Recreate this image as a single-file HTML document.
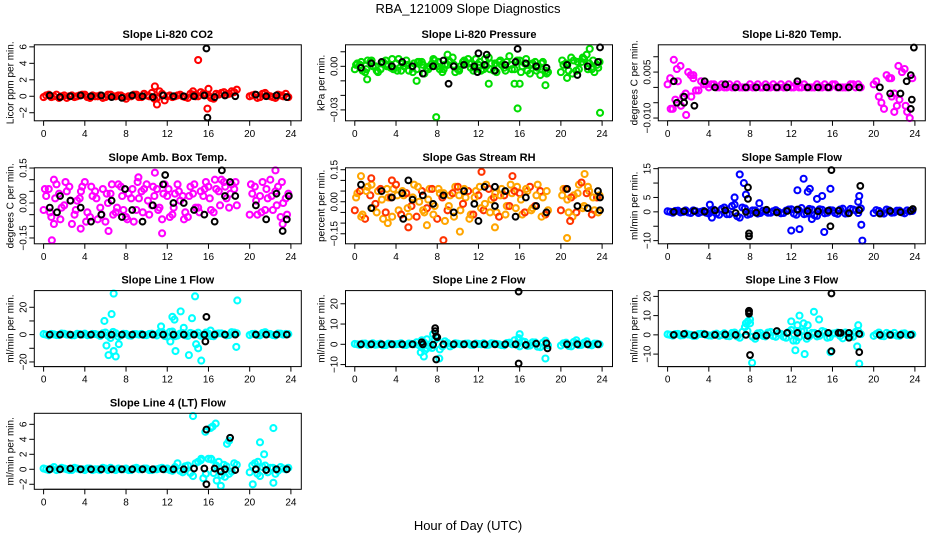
<!DOCTYPE html>
<html><head><meta charset="utf-8"><style>
html,body{margin:0;padding:0;background:#fff;}
svg{display:block;font-family:"Liberation Sans",Arial,sans-serif;}
</style></head><body>
<svg id="chart" width="936" height="540" viewBox="0 0 936 540">
<text x="468" y="13" text-anchor="middle" font-size="13">RBA_121009  Slope Diagnostics</text>
<text x="468" y="530" text-anchor="middle" font-size="13">Hour of Day (UTC)</text>
</svg>
<script>
// ---- shared categories ----
const hoursA = [0.25,0.75,1.25,1.75,2.25,2.75,3.25,3.75,4.25,4.75,5.25,5.75,6.25,6.75,7.25,7.75,8.25,8.75,9.25,9.75,10.25,10.75,11.25,11.75,12.25,12.75,13.25,13.75,14.25,14.75,15.25,15.75,16.25,16.75,17.25,17.75,18.25,18.75,19.25,19.75,20.25,20.75,21.25,21.75,22.25,22.75,23.25,23.75];
const hoursB = [0,0.5,1,1.5,2,2.5,3,3.5,4,4.5,5,5.5,6,6.5,7,7.5,8,8.5,9,9.5,10,10.5,11,11.5,12,12.5,13,13.5,14,14.5,15,15.5,16,16.5,17,17.5,18,18.5,19,19.5,20,20.5,21,21.5,22,22.5,23,23.5];
const hoursC = [0.125,0.625,1.125,1.625,2.125,2.625,3.125,3.625,4.125,4.625,5.125,5.625,6.125,6.625,7.125,7.625,8.125,8.625,9.125,9.625,10.125,10.625,11.125,11.625,12.125,12.625,13.125,13.625,14.125,14.625,15.125,15.625,16.125,16.625,17.125,17.625,18.125,18.625,19.125,19.625,20.125,20.625,21.125,21.625,22.125,22.625,23.125,23.625];
const hoursK = [0.6,1.6,2.6,3.6,4.6,5.6,6.6,7.6,8.6,9.6,10.6,11.6,12.6,13.6,14.6,15.6,16.6,17.6,18.6,19.6,20.6,21.6,22.6,23.6];
const xTicks = [0,4,8,12,16,20,24];

// ---- P1 CO2 ----
const co2A = [0.1,-0.1,0.2,0,-0.2,0.1,0,0.2,-0.1,0.1,0,-0.2,0.2,0,0.1,-0.1,0,0.2,-0.1,0.3,0,-0.3,0.6,-0.5,0.1,0,0.2,-0.1,0.3,0,0.5,0.2,-0.2,0.3,0.4,0.2,0.6,0.8,null,null,0.1,-0.2,0.3,0.1,-0.1,0.2,0,-0.1];
const co2B = [-0.1,0.2,0,-0.2,0.1,0,-0.1,0.1,0.2,-0.2,0,0.1,-0.1,0.2,0,0.1,-0.3,0,0.2,-0.1,0.1,0.4,-0.2,0.3,0,-0.1,0.1,0,-0.2,0.2,0,0.3,0.1,-0.3,0.2,0.5,0.3,0.5,null,null,0,0.2,-0.1,0.4,0,-0.2,0.1,0.3];
const co2OutX = [10.8,11,15,15.9,16,14.5];
const co2OutY = [1.2,-1,4.4,-1.5,0.9,0.6];
const co2K = [0.1,-0.1,0,0.1,0,0.1,-0.1,-0.2,0.1,0,-0.1,0.1,0,0,0,0.1,-0.1,0.1,0,null,0.2,0,0.1,-0.1];
const co2KOutX = [15.8,15.9];
const co2KOutY = [5.8,-2.6];
const co2Ticks = [-2,0,2,4,6];
const co2Labels = ["−2","0","2","4","6"];

// ---- P2 Pressure ----
const presA = [0.002,-0.003,0.004,0,-0.004,0.003,0.001,-0.002,0.005,0,-0.003,0.002,0.003,-0.005,0,0.004,-0.002,0.001,0.003,-0.004,0,0.002,-0.001,0.005,-0.003,0,0.002,-0.004,0.001,0.003,-0.002,0.004,0,-0.003,0.002,-0.001,0.003,-0.004,null,null,0.001,-0.003,0.004,-0.002,0.005,0.002,-0.004,0.003];
const presB = [-0.002,0.001,-0.004,0.003,0,-0.002,0.004,-0.001,0.002,-0.003,0.004,0,-0.002,0.003,-0.001,0.002,0,-0.004,0.001,0.006,-0.002,0.003,0.005,-0.003,0.001,-0.002,0.006,-0.003,0.003,-0.001,0.007,-0.002,0.004,0.002,-0.005,0.003,-0.006,-0.003,null,null,-0.004,0.002,0.006,-0.003,0.003,0.008,-0.002,0.001];
const presC = [0.001,0.003,-0.002,0.004,-0.003,0.002,0,0.005,-0.003,0.002,0.001,-0.004,0.003,0.001,-0.002,0.005,0.003,-0.002,0.004,0.001,-0.003,0.004,0.002,-0.001,0.003,0.005,-0.002,0.002,0.004,-0.003,0.001,0.003,-0.004,0.005,0.001,-0.003,0.002,-0.005,null,null,0.004,0.001,-0.005,0.003,0.006,-0.002,0.004,-0.001];
const presOutX = [7.9,15.8,23.8,1.2,6,9,13,15.5,16,18.5,20.6,22.8];
const presOutY = [-0.035,-0.029,-0.032,-0.009,-0.010,0.008,-0.012,-0.012,-0.012,-0.013,-0.008,0.012];
const presK = [-0.001,0.002,0.003,0,0.003,0,-0.005,0,0.004,0,0.001,0,0.001,-0.003,0.001,0.003,0.002,0,-0.001,null,0.001,-0.006,0,0.003];
const presKOutX = [15.8,23.8,9.1,12,12.8,11.9];
const presKOutY = [0.012,0.013,-0.012,0.009,0.008,-0.004];
const presTicks = [-0.03,-0.02,-0.01,0,0.01];
const presLabels = ["−0.03","","","0.00",""];

// ---- P3 Temp ----
const tempA = [0.003,-0.004,0.007,-0.002,0.004,-0.001,0.002,0.001,0.001,0,0.001,0,0,0.001,0,0,0,0.001,0,0,0.001,0,0,0.001,0,0,0.001,0,0,0,0.001,0,0.001,0,0,0.001,0,0,null,null,0.002,-0.005,0.004,-0.003,-0.006,0.005,-0.008,0.003];
const tempB = [0.001,-0.007,0.002,-0.003,0.005,0.003,-0.001,0.001,0,0.001,0,0,0.001,0,0,0,0.001,0,0,0.001,0,0,0.001,0,0,0.001,0,0,0,0.001,0,0,0.001,0,0,0,0.001,0.001,null,null,0.001,-0.003,-0.007,0.003,-0.002,-0.004,0.006,-0.010];
const tempOutX = [0.6,0.3,1.8,2.5,0.9,1.3,2.3,22.4,22,21.7,23.1];
const tempOutY = [0.009,-0.007,-0.009,0.004,0.006,-0.006,-0.003,0.007,-0.008,0.003,-0.006];
const tempK = [0.002,-0.005,-0.006,0.002,0,0.001,0,0,0,0,0,0,0.002,0,0,0,0,0,0,null,0,-0.002,-0.002,0.004];
const tempKOutX = [23.9,23.6,23.7,23.2,0.9,1.6];
const tempKOutY = [0.013,-0.007,-0.004,0.002,-0.005,-0.003];
const tempTicks = [-0.01,-0.005,0,0.005,0.01];
const tempLabels = ["−0.010","","","0.005",""];

// ---- P4 Amb box temp ----
const ambA = [0.03,-0.06,0.08,-0.02,0.05,-0.09,0.01,0.07,-0.04,0.03,-0.07,0.06,0,-0.05,0.08,-0.03,0.04,-0.08,0.02,0.06,-0.05,0.03,-0.02,0.08,-0.06,0.04,0.01,-0.04,0.07,-0.02,0.05,0.09,-0.03,0.06,0.1,0.02,0.08,-0.01,null,null,0.04,-0.05,0.09,0.02,-0.03,0.07,0,0.04];
const ambB = [-0.03,0.06,-0.09,0.04,-0.01,0.07,-0.05,0.02,0.09,-0.06,0.05,-0.02,-0.08,0.04,-0.04,0.07,-0.06,0.02,-0.03,0.05,0.08,-0.01,0.06,-0.07,0.03,-0.05,0.08,0.03,-0.06,0.04,-0.02,0.03,0.07,-0.04,0.05,0.09,-0.02,0.06,null,null,-0.05,0.07,0.03,-0.03,0.1,0.05,-0.06,0.02];
const ambC = [0.06,-0.04,0.02,-0.07,0.09,0.01,-0.03,0.05,-0.08,0.07,0.02,-0.05,0.04,0.08,-0.02,0.03,-0.07,0.06,0.09,-0.04,0.01,0.07,-0.03,0.04,0.06,-0.02,0.05,-0.07,0.03,0.08,-0.04,0.06,0.02,0.1,-0.01,0.07,0.04,0.09,null,null,0.08,0.01,-0.04,0.06,0.03,-0.01,0.09,-0.05];
const ambOutX = [0.8,3.6,6.3,10.8,11.5,9.2,1,22.5,23.2];
const ambOutY = [-0.16,-0.11,-0.12,0.13,-0.13,0.11,0.1,0.14,-0.09];
const ambK = [-0.02,0.03,0.01,-0.02,-0.08,-0.05,0.01,-0.06,-0.03,-0.08,-0.01,0.08,0,0,-0.03,-0.05,-0.08,0.03,0.03,null,-0.01,-0.07,0.04,-0.07];
const ambKOutX = [17.3,18.1,11.8,23.2,23.8,7.9,1.3];
const ambKOutY = [0.14,0.09,0.12,-0.12,0.03,0.06,-0.04];
const ambTicks = [-0.15,-0.1,-0.05,0,0.05,0.1,0.15];
const ambLabels = ["−0.15","","","0.00","","","0.15"];

// ---- P5 RH ----
const rhA = [0.04,-0.06,0.07,-0.03,0.05,-0.08,0.02,0.06,-0.04,0.03,-0.07,0.08,0,-0.05,0.06,-0.02,0.04,-0.09,0.03,0.07,-0.04,0.02,-0.06,0.05,-0.03,0.08,0.01,-0.05,0.06,-0.02,0.04,0.07,-0.06,0.05,-0.03,0.08,0.02,-0.04,null,null,0.06,-0.05,0.03,0.08,-0.02,0.05,-0.04,0.03];
const rhB = [-0.04,0.05,-0.08,0.03,-0.01,0.06,-0.05,0.02,0.08,-0.06,0.04,-0.02,-0.07,0.05,-0.03,0.06,-0.08,0.02,-0.04,0.04,0.07,-0.01,0.05,-0.06,0.03,-0.04,0.06,0.02,-0.07,0.03,-0.02,0.05,0.04,-0.05,0.07,-0.02,0.05,-0.06,null,null,-0.04,0.06,0.02,-0.05,0.09,0.04,-0.06,0.02];
const rhC = [0.02,-0.07,0.05,0.08,-0.05,0.01,0.06,-0.07,0.03,0.05,-0.03,0.02,0.07,-0.04,0.01,-0.06,0.06,0.04,-0.02,-0.07,0.03,0.06,-0.08,0.02,0.07,-0.01,-0.05,0.04,0.03,-0.06,0.08,-0.03,0.01,0.06,-0.04,0.03,-0.07,0.05,null,null,0.03,0.01,-0.07,0.04,-0.03,0.07,0.02,-0.05];
const rhOutX = [0.6,1.6,3.2,5.2,7,8.6,10.2,12.3,13.6,15.3,20.6,20.9,22.3,3.6];
const rhOutY = [0.12,0.11,-0.1,-0.12,-0.11,-0.18,-0.14,0.14,-0.12,0.12,-0.17,-0.09,0.13,0.1];
const rhK = [0.08,-0.03,0.05,0.02,0.04,0.01,0.03,-0.01,0.03,-0.05,0.05,-0.01,0.07,-0.02,0.05,-0.07,0.02,-0.02,-0.05,null,0.06,-0.02,-0.03,0.05];
const rhKOutX = [4.7,5.2,12,13.6,23.8,23.8];
const rhKOutY = [-0.08,0.1,-0.09,0.07,-0.04,0.02];
const rhTicks = [-0.15,-0.1,-0.05,0,0.05,0.1,0.15];
const rhLabels = ["−0.15","","","0.00","","","0.15"];

// ---- P6 Sample flow ----
const sfA = [0,0.3,-0.2,0.5,-0.4,0.2,0,-0.3,0.6,-0.5,1,-0.8,2,-1.5,1.5,-1,0.5,-0.6,0.4,-0.3,0.2,0,-0.4,0.8,-0.6,0.5,-0.8,1,-1.2,0.9,-0.5,0.6,-0.4,0.8,-0.6,1,0.5,1.2,null,null,0.6,-0.5,0.8,-0.3,0.4,-0.2,0.5,0.3];
const sfB = [0.2,-0.3,0.4,0,-0.2,0.5,-0.4,0.3,-0.6,0.7,-1,1.5,-0.8,2.5,-2,1.2,-0.7,0.5,-0.4,0.2,-0.3,0.6,-0.5,0.4,0.9,-1,1.3,-0.6,0.8,-1.4,0.7,-0.3,0.5,-0.7,1.1,-0.5,0.8,-0.4,null,null,-0.4,0.3,-0.6,0.5,-0.2,0.4,-0.5,0.2];
const sfOutX = [7,7.4,7.6,6.5,4.1,4.3,13.2,12.6,13.8,13.6,15.8,12,12.8,14,14.5,15,15.2,18.6,18.8,18.9,8.9,18.5];
const sfOutY = [13,10,6,5,2.5,-2,11.5,7.5,8,7,8,-6.5,-6,-2.5,4.5,5.5,-7,5.5,-4.5,-10,3,3.5];
const sfK = [0,0.2,0.3,0.1,0.5,0.5,-0.4,0,-0.3,0.7,-0.2,0.3,0.8,0.3,0.2,0.4,0.4,-0.5,0.6,null,-0.6,0.3,-0.1,0.4];
const sfKOutX = [7.8,7.8,7.9,7.9,15.9,15.8,18.7,23.8];
const sfKOutY = [8.5,4.5,-7.5,-8.5,14.5,-5,9,1];
const sfTicks = [-10,-5,0,5,10,15];
const sfLabels = ["−10","","0","5","","15"];

// ---- P7 Line 1 ----
const l1A = [0,0.5,-0.3,0.8,0,-0.5,0.6,0,-0.4,0.5,0,1,-0.8,2,-1.5,0.6,-0.5,0.4,0,-0.3,0.5,0,1.5,-1,2,-1.2,0.8,-0.5,1.2,0.4,-0.8,1.5,-1,0.6,0.9,-0.5,1.8,1,null,null,0.5,-0.4,1.2,0.6,-0.3,0.8,0,0.4];
const l1B = [0.4,-0.6,0.2,-0.3,0.6,0,-0.5,0.3,0.7,-0.2,0.4,-0.9,1.5,-2.5,1,-0.6,0.5,-0.8,0.3,0.5,-0.4,0.7,-0.6,1.8,-1.5,2.2,-0.7,1.1,-0.9,0.6,1.4,-0.6,0.8,-1.2,0.9,0.4,-0.3,1.5,null,null,-0.3,0.6,-0.5,1.8,0.4,-0.6,0.7,0.5];
const l1OutX = [6.8,6.6,5.9,6.1,6.3,7,7.3,6.8,11.4,12.5,12.7,13.3,12.8,14.1,14.4,14.7,15,15.3,14.8,12.3,13.6,18.8,18.7,16.2];
const l1OutY = [30,15,10,-8,-15,-16,-7,-12,6,13,11,17,-12,-15,12,28,-10,-19,-7,-5,5,25,-9,3];
const l1K = [0,0,0,0,0,0,0,0,0,0,0,0,0,0,0,0,0,0,0,null,0,0,0,0];
const l1KOutX = [15.8,15.7];
const l1KOutY = [13,-5];
const l1Ticks = [-20,-10,0,10,20];
const l1Labels = ["−20","","0","","20"];

// ---- P8 Line 2 ----
const l2A = [0,0.3,-0.2,0.5,0,-0.4,0.3,0,0.2,-0.3,0.4,0,-0.5,0.8,-1,2,-2.5,1.5,-1,0.5,0,0.3,-0.2,0.4,0,-0.3,0.5,0.2,-0.4,0.6,0,-0.3,1.5,-0.8,1,-1.2,0.8,-0.5,null,null,0.5,-0.8,1.2,-0.4,0.8,-0.2,0.4,0];
const l2B = [0.2,-0.3,0.4,0,-0.2,0.3,-0.4,0.2,0,0.5,-0.3,0.2,1,-1.5,2.5,-1.8,3,-1,0.6,-0.4,0.3,0,0.4,-0.3,0.2,0.5,-0.2,0.3,0,-0.5,0.8,2,-1,1.2,-0.6,0.9,-1.4,1.8,null,null,-0.6,0.8,-1,0.5,-0.3,1.5,-0.5,0.3];
const l2OutX = [6.7,7,6.4,6.8,7.6,8.2,16,15.9,18.5,6.5,21.5];
const l2OutY = [-6,-2,-4,-3,5,-7,5,3,-7,2,2];
const l2K = [0,0,0,0,0,0,0,-0.2,0,0,0,0,0,0,0,0,-0.3,0.3,0.5,null,0,0,0,0];
const l2KOutX = [7.8,7.8,7.9,7.9,8,15.9,15.9,18.7,6.5];
const l2KOutY = [8,6.5,4,-7.5,3.5,26,-9.5,-2,1];
const l2Ticks = [-10,0,10,20];
const l2Labels = ["−10","0","10","20"];

// ---- P9 Line 3 ----
const l3A = [0,0.4,-0.3,0.6,0,-0.5,0.5,0,-0.4,0.6,0,-0.6,1,-0.8,1.5,2,-1,0.8,-0.5,1.2,-0.6,0.8,-1,1.5,0.5,-1.2,2,-0.8,1,-0.5,1.5,-1.2,0.8,-0.6,1.2,-0.8,1.5,0.4,null,null,0.4,-0.6,1,0,-0.4,0.6,0,0.3];
const l3B = [0.3,-0.4,0.5,-0.2,0.2,-0.6,0.4,0.5,-0.3,0.2,-0.5,0.8,-0.7,1.2,-1.5,4,6,-2,1,-0.8,1.5,-1,0.5,-1.5,2.5,-3,1.8,-2,1,-0.8,2,-1.5,0.6,1.2,-1.8,0.8,-1,2,null,null,-0.5,1.2,-0.7,0.4,1,-0.5,0.8,0];
const l3OutX = [7.6,7.8,8,8.2,12,12.4,12.8,13.2,13.6,14.2,14.7,12.2,12.6,13.3,15.8,18.5,18.4,18.6];
const l3OutY = [6,7,8,-14.5,7,-8,10,6,5,12,8,-3,5,-10,-9,5,-6,-15];
const l3K = [0,0.5,-0.2,0.3,0,0.2,0,0,-0.5,-0.3,2,1,1,-0.5,0.5,1,1,1,0.5,null,0,0,0,0];
const l3KOutX = [7.9,7.9,8,7.9,15.9,15.9,18.6,16.8,17.6];
const l3KOutY = [12,11,-10.5,12.5,21.5,-8.5,-9,1,-1.5];
const l3Ticks = [-10,0,10,20];
const l3Labels = ["−10","0","10","20"];

// ---- P10 Line 4 ----
const l4A = [0,0.1,-0.1,0.2,0,-0.1,0.1,0,0.1,-0.1,0,0.2,-0.1,0,0.1,0,-0.1,0.1,0,0.1,-0.1,0,0.1,0,-0.1,0.3,-0.2,0.4,-0.5,0.8,1.2,-0.6,1.4,0.5,-0.8,0.4,-0.3,0.6,null,null,0.5,-0.6,0.3,-0.4,0.2,-0.2,0.1,0.2];
const l4B = [0.1,-0.1,0.3,0,0.1,-0.1,0.2,0,-0.1,0.1,0,-0.1,0.1,0.2,-0.1,0,0.1,-0.1,0.2,0,0.1,-0.1,0,0.2,0.1,-0.2,0.8,-0.4,0.5,-0.9,1,-1.2,1.4,-0.5,1,0.6,-0.6,0.8,null,null,-0.4,0.8,-0.9,0.5,0.2,-0.6,0.3,0];
const l4OutX = [14.5,15.7,16.2,16.4,16.7,17.8,18,17.2,16.8,21.4,22.3,21,20.8,20.3,22.3,17.6,15.3,16.3];
const l4OutY = [7.1,5,5.5,5.7,6.1,3.4,3.8,-2.2,-1.5,2,5.5,3.6,1,-2,-1.8,-1,1.4,1.3];
const l4K = [0,0,0.1,0,0,0,0,0,0,0,0,0,0,0,0.1,0.1,0.1,0,-0.1,null,0,-0.1,0,0];
const l4KOutX = [15.8,15.8,18.1,17.2];
const l4KOutY = [5.3,-2,4.2,-0.3];
const l4Ticks = [-2,0,2,4,6];
const l4Labels = ["−2","0","2","4","6"];

const NS = "http://www.w3.org/2000/svg";
const svg = document.getElementById('chart');
function mk(tag, attrs, parent) {
  const e = document.createElementNS(NS, tag);
  for (const k in attrs) e.setAttribute(k, attrs[k]);
  (parent || svg).appendChild(e);
  return e;
}

const colLeft = [34.3, 345.5, 658.3];
const rowTop = [44.8, 167.8, 290.6, 413.3];
const boxW = 267, boxH = 76;

const panels = [
  {name:'co2', title:'Slope Li-820 CO2', ylab:'Licor ppm per min.', ylim:[-2.98,6.25], col:'#ff0000', A:co2A, B:co2B, ox:co2OutX, oy:co2OutY, K:co2K, kx:co2KOutX, ky:co2KOutY, ticks:co2Ticks, labels:co2Labels},
  {name:'pressure', title:'Slope Li-820 Pressure', ylab:'kPa per min.', ylim:[-0.0375,0.0148], col:'#00dd00', A:presA, B:presB, C:presC, ox:presOutX, oy:presOutY, K:presK, kx:presKOutX, ky:presKOutY, ticks:presTicks, labels:presLabels},
  {name:'temp', title:'Slope Li-820 Temp.', ylab:'degrees C per min.', ylim:[-0.0109,0.0139], col:'#ff00ff', A:tempA, B:tempB, ox:tempOutX, oy:tempOutY, K:tempK, kx:tempKOutX, ky:tempKOutY, ticks:tempTicks, labels:tempLabels},
  {name:'amb-box-temp', title:'Slope Amb. Box Temp.', ylab:'degrees C per min.', ylim:[-0.175,0.151], col:'#ff00ff', A:ambA, B:ambB, C:ambC, ox:ambOutX, oy:ambOutY, K:ambK, kx:ambKOutX, ky:ambKOutY, ticks:ambTicks, labels:ambLabels},
  {name:'gas-stream-rh', title:'Slope Gas Stream RH', ylab:'percent per min.', ylim:[-0.197,0.159], col:'#ffa500', col2:'#ff3300', A:rhA, B:rhB, C:rhC, ox:rhOutX, oy:rhOutY, K:rhK, kx:rhKOutX, ky:rhKOutY, ticks:rhTicks, labels:rhLabels},
  {name:'sample-flow', title:'Slope Sample Flow', ylab:'ml/min per min.', ylim:[-11.1,15.3], col:'#0000ff', A:sfA, B:sfB, ox:sfOutX, oy:sfOutY, K:sfK, kx:sfKOutX, ky:sfKOutY, ticks:sfTicks, labels:sfLabels},
  {name:'line1-flow', title:'Slope Line 1 Flow', ylab:'ml/min per min.', ylim:[-23.4,32.2], col:'#00ffff', A:l1A, B:l1B, ox:l1OutX, oy:l1OutY, K:l1K, kx:l1KOutX, ky:l1KOutY, ticks:l1Ticks, labels:l1Labels},
  {name:'line2-flow', title:'Slope Line 2 Flow', ylab:'ml/min per min.', ylim:[-11,26.5], col:'#00ffff', A:l2A, B:l2B, ox:l2OutX, oy:l2OutY, K:l2K, kx:l2KOutX, ky:l2KOutY, ticks:l2Ticks, labels:l2Labels},
  {name:'line3-flow', title:'Slope Line 3 Flow', ylab:'ml/min per min.', ylim:[-16.5,23], col:'#00ffff', A:l3A, B:l3B, ox:l3OutX, oy:l3OutY, K:l3K, kx:l3KOutX, ky:l3KOutY, ticks:l3Ticks, labels:l3Labels},
  {name:'line4-flow', title:'Slope Line 4 (LT) Flow', ylab:'ml/min per min.', ylim:[-2.67,7.47], col:'#00ffff', A:l4A, B:l4B, ox:l4OutX, oy:l4OutY, K:l4K, kx:l4KOutX, ky:l4KOutY, ticks:l4Ticks, labels:l4Labels}
];

panels.forEach((p, i) => {
  const bx = colLeft[i % 3], by = rowTop[Math.floor(i / 3)];
  const g = mk('g', {});
  
  
  const xs = h => bx + 9.3 + h * (247.3 / 24);
  const ys = v => by + boxH - (v - p.ylim[0]) / (p.ylim[1] - p.ylim[0]) * boxH;

  const t = mk('text', {x: bx + boxW / 2, y: by - 7, 'text-anchor': 'middle', 'font-size': 11, 'font-weight': 'bold'}, g);
  t.textContent = p.title;
  
  

  const yl = mk('text', {x: 0, y: 0, 'text-anchor': 'middle', 'font-size': 10, transform: `translate(${bx - 21},${by + boxH / 2}) rotate(-90)`}, g);
  yl.textContent = p.ylab;
  
  

  const xa = mk('g', {}, g);
  
  
  mk('line', {x1: xs(xTicks[0]), x2: xs(xTicks[xTicks.length - 1]), y1: by + boxH, y2: by + boxH, stroke: '#000'}, xa);
  xTicks.forEach(tv => {
    mk('line', {x1: xs(tv), x2: xs(tv), y1: by + boxH, y2: by + boxH + 5, stroke: '#000'}, xa);
    const tl = mk('text', {x: xs(tv), y: by + boxH + 16, 'text-anchor': 'middle', 'font-size': 10}, xa);
    tl.textContent = tv;
    
    
  });

  const ya = mk('g', {}, g);
  
  
  p.ticks.forEach((tv, j) => {
    const yy = ys(tv);
    mk('line', {x1: bx - 5, x2: bx, y1: yy, y2: yy, stroke: '#000'}, ya);
    if (p.labels[j]) {
      const tl = mk('text', {x: 0, y: 0, 'text-anchor': 'middle', 'font-size': 10, transform: `translate(${bx - 8},${yy}) rotate(-90)`}, ya);
      tl.textContent = p.labels[j];
      
      
    }
  });

  const pts = mk('g', {fill: 'none'}, g);
  
  
  function dot(h, v, color, sw, r) {
    if (v === null || v === undefined) return;
    const c = mk('circle', {cx: xs(h), cy: ys(v), r: r, stroke: color, 'stroke-width': sw}, pts);
    
    
  }
  const c2 = p.col2 || p.col;
  p.A.forEach((v, j) => dot(hoursA[j], v, p.col, 2.1, 3.0));
  p.B.forEach((v, j) => dot(hoursB[j], v, c2, 2.1, 3.0));
  if (p.C) p.C.forEach((v, j) => dot(hoursC[j], v, p.col, 2.1, 3.0));
  p.ox.forEach((h, j) => dot(h, p.oy[j], j % 2 && p.col2 ? p.col2 : p.col, 2.1, 3.0));
  p.K.forEach((v, j) => dot(hoursK[j], v, '#000', 2.0, 2.9));
  p.kx.forEach((h, j) => dot(h, p.ky[j], '#000', 2.0, 2.9));

  const box = mk('rect', {x: bx, y: by, width: boxW, height: boxH, fill: 'none', stroke: '#000', 'stroke-width': 1}, g);
  
  
});
</script>
</body></html>
